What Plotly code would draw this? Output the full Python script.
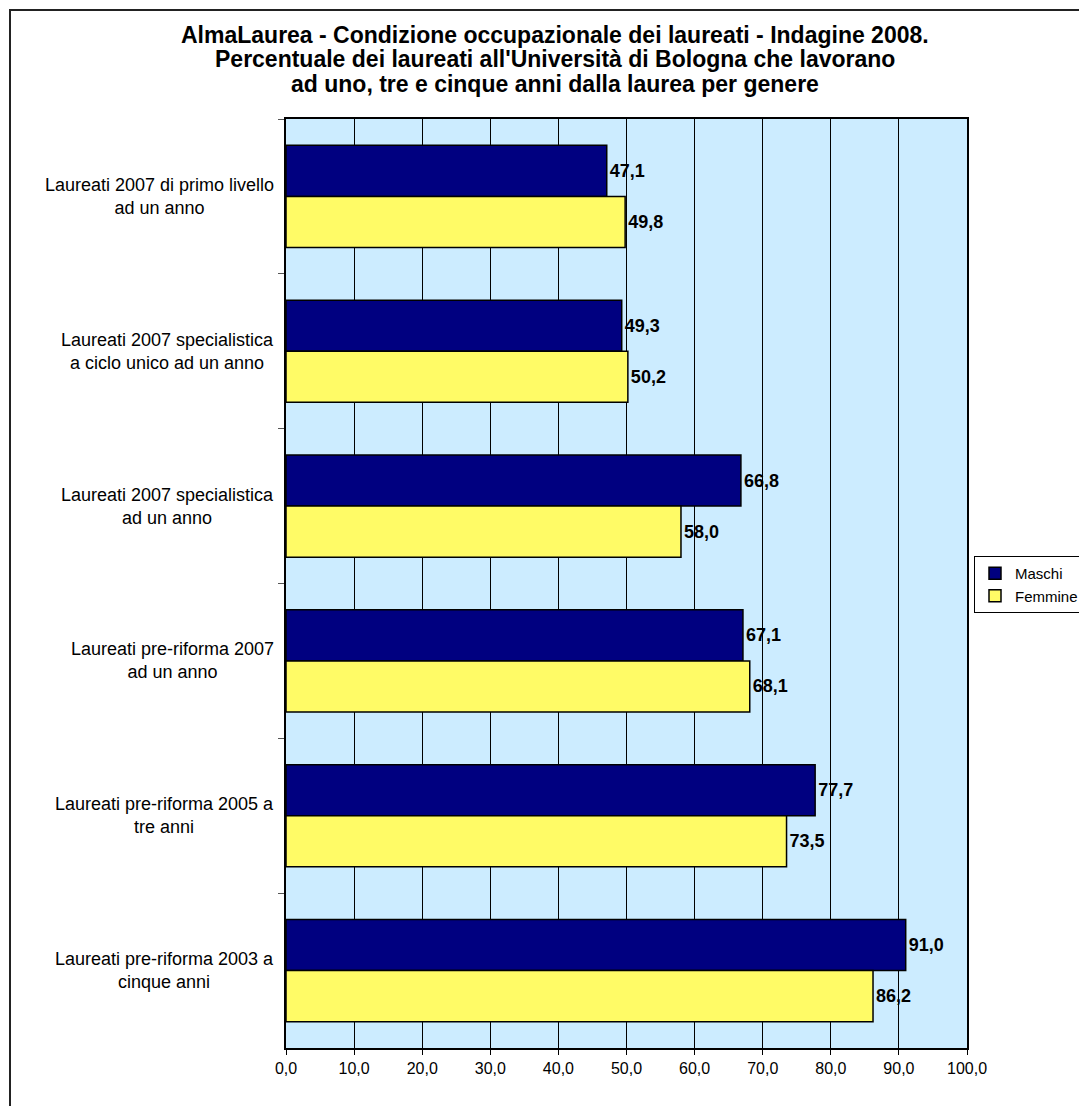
import plotly.graph_objects as go

# Employment rates (%) of Bologna graduates by gender, AlmaLaurea survey 2008
categories = [
    "Laureati 2007 di primo livello<br>ad un anno",
    "Laureati 2007 specialistica<br>a ciclo unico ad un anno",
    "Laureati 2007 specialistica<br>ad un anno",
    "Laureati pre-riforma 2007<br>ad un anno",
    "Laureati pre-riforma 2005 a<br>tre anni",
    "Laureati pre-riforma 2003 a<br>cinque anni",
]
maschi = [47.1, 49.3, 66.8, 67.1, 77.7, 91.0]
femmine = [49.8, 50.2, 58.0, 68.1, 73.5, 86.2]
x_ticks = [0, 10, 20, 30, 40, 50, 60, 70, 80, 90, 100]
title_lines = [
    "AlmaLaurea - Condizione occupazionale dei laureati - Indagine 2008.",
    "Percentuale dei laureati all'Università di Bologna che lavorano",
    "ad uno, tre e cinque anni dalla laurea per genere",
]

FONT = "Liberation Sans, Arial, sans-serif"
W, H = 1079, 1106
ML, MR, MT, MB = 286, 112, 119, 58
PW, PH = W - ML - MR, H - MT - MB


def px_to_paper_x(px):
    return (px - ML) / PW


def px_to_paper_y(py):
    return (H - MB - py) / PH


def fmt(v):
    return f"{v:.1f}".replace(".", ",")


fig = go.Figure()
fig.add_trace(go.Bar(
    name="Maschi", y=categories, x=maschi, orientation="h",
    marker=dict(color="#000080", line=dict(color="black", width=1.5)),
    text=[fmt(v) for v in maschi], textposition="outside", cliponaxis=False,
    textfont=dict(family=FONT, size=18, color="black", weight="bold"),
))
fig.add_trace(go.Bar(
    name="Femmine", y=categories, x=femmine, orientation="h",
    marker=dict(color="#FFFB66", line=dict(color="black", width=1.5)),
    text=[fmt(v) for v in femmine], textposition="outside", cliponaxis=False,
    textfont=dict(family=FONT, size=18, color="black", weight="bold"),
))

# category labels, centred multi-line text left of the plot
annotations = []
for c in categories:
    annotations.append(dict(
        x=0, xref="paper", y=c, yref="y", xanchor="right", yanchor="middle",
        xshift=-10, text=c, showarrow=False, align="center",
        font=dict(family=FONT, size=18, color="black"),
    ))

# title lines
for i, line in enumerate(title_lines):
    annotations.append(dict(
        x=px_to_paper_x(555), xref="paper", y=px_to_paper_y(35 + 24.5 * i),
        yref="paper", xanchor="center", yanchor="middle", text=line,
        showarrow=False, font=dict(family=FONT, size=23, color="black", weight="bold"),
    ))

fig.update_layout(
    width=W, height=H, autosize=False,
    margin=dict(l=ML, r=MR, t=MT, b=MB, autoexpand=False),
    paper_bgcolor="white", plot_bgcolor="#CCECFF",
    separators=",.",
    barmode="group", bargap=0.34, bargroupgap=0,
    font=dict(family=FONT, size=16, color="black"),
    annotations=annotations,
    legend=dict(
        x=px_to_paper_x(974), y=px_to_paper_y(556), xanchor="left", yanchor="top",
        bordercolor="black", borderwidth=1, bgcolor="white", itemwidth=30,
        font=dict(family=FONT, size=15, color="black"), traceorder="normal",
    ),
    shapes=[dict(
        type="rect", xref="paper", yref="paper", layer="above",
        x0=px_to_paper_x(10), x1=px_to_paper_x(W + 20),
        y0=px_to_paper_y(H + 20), y1=px_to_paper_y(10),
        line=dict(color="#222222", width=2), fillcolor="rgba(0,0,0,0)",
    )],
)
fig.update_xaxes(
    range=[0, 100], tickvals=x_ticks, ticktext=[fmt(v) for v in x_ticks],
    showgrid=True, gridcolor="black", gridwidth=1, zeroline=False,
    showline=True, linecolor="black", linewidth=1.5, mirror=True,
    ticks="outside", ticklen=5, tickcolor="black",
    tickfont=dict(family=FONT, size=16, color="black"),
)
fig.update_yaxes(
    type="category", autorange="reversed", tickson="boundaries",
    showticklabels=False, showgrid=False, zeroline=False,
    showline=True, linecolor="black", linewidth=1.5, mirror=True,
    ticks="outside", ticklen=6, tickcolor="#555555",
)

fig.write_html("out.html")
